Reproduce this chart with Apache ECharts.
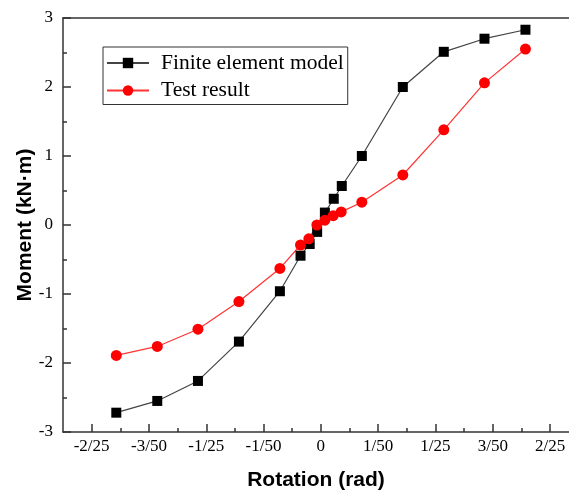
<!DOCTYPE html>
<html>
<head>
<meta charset="utf-8">
<script src="https://cdn.jsdelivr.net/npm/echarts@6/dist/echarts.min.js"></script>
<style>
  html, body { margin: 0; padding: 0; background: #fff; }
  #chart { width: 569px; height: 492px; }
</style>
</head>
<body>
<div id="chart"></div>
<script>
// rotation (rad) and moment (kN·m)
const femRotation = [-0.0714, -0.0571, -0.0429, -0.0286, -0.0143, -0.0071, -0.0039, -0.0013, 0.0014, 0.0045, 0.0073, 0.0143, 0.0286, 0.0429, 0.0571, 0.0714]
const femMoment = [-2.72, -2.55, -2.26, -1.69, -0.96, -0.445, -0.275, -0.10, 0.18, 0.38, 0.565, 1.0, 2.0, 2.51, 2.70, 2.83]

const testRotation = [-0.0714, -0.0571, -0.0429, -0.0286, -0.0143, -0.0071, -0.0042, -0.0014, 0.0014, 0.0043, 0.0071, 0.0143, 0.0286, 0.0429, 0.0571, 0.0714]
const testMoment = [-1.89, -1.76, -1.51, -1.11, -0.63, -0.29, -0.20, 0.0, 0.07, 0.135, 0.19, 0.33, 0.725, 1.38, 2.06, 2.55]

const xTickValues = [-0.08, -0.06, -0.04, -0.02, 0, 0.02, 0.04, 0.06, 0.08]
const xTickLabels = ['-2/25', '-3/50', '-1/25', '-1/50', '0', '1/50', '1/25', '3/50', '2/25']
const xMinorTicks = [-0.07, -0.05, -0.03, -0.01, 0.01, 0.03, 0.05, 0.07]

// the original plot runs to 0.09 but is cut off at the right edge of the image
const xMin = -0.09
const xMax = 0.0866

const zip = (xs, ys) => xs.map((x, i) => [x, ys[i]])

const serif = 'Liberation Serif'
const sans = 'Liberation Sans'
const axisColor = '#333'
const tickStyle = { color: axisColor, width: 1.5 }

const chart = echarts.init(document.getElementById('chart'), null, { renderer: 'canvas' })

chart.setOption({
  animation: false,
  grid: {
    left: 63,
    top: 18,
    bottom: 60,
    right: 0,
    outerBoundsMode: 'none'
  },
  legend: {
    left: 103,
    top: 47,
    orient: 'vertical',
    itemWidth: 42,
    itemHeight: 13,
    itemGap: 5.5,
    padding: [5, 4, 3, 3],
    borderColor: '#333',
    borderWidth: 1,
    backgroundColor: '#fff',
    textStyle: {
      fontFamily: serif,
      fontSize: 21.5,
      color: '#000',
      lineHeight: 21,
      padding: [0, 0, 0, 7]
    }
  },
  xAxis: [{
    type: 'value',
    min: xMin,
    max: xMax,
    name: 'Rotation (rad)',
    nameLocation: 'middle',
    nameGap: 38,
    nameMoveOverlap: false,
    nameTextStyle: { fontFamily: sans, fontWeight: 'bold', fontSize: 21, color: '#000' },
    splitLine: { show: false },
    axisLine: { onZero: false, lineStyle: tickStyle },
    axisTick: { inside: true, length: 8, customValues: xTickValues, lineStyle: tickStyle },
    axisLabel: {
      customValues: xTickValues,
      margin: 6,
      fontFamily: serif,
      fontSize: 17,
      color: '#000',
      formatter: (v) => {
        const i = xTickValues.findIndex(t => Math.abs(t - v) < 1e-6)
        return i >= 0 ? xTickLabels[i] : ''
      }
    }
  }, {
    // minor ticks only
    type: 'value',
    position: 'bottom',
    min: xMin,
    max: xMax,
    splitLine: { show: false },
    axisLine: { show: false, onZero: false },
    axisTick: { inside: true, length: 4, customValues: xMinorTicks, lineStyle: tickStyle },
    axisLabel: { show: false }
  }, {
    // top frame line
    type: 'value',
    position: 'top',
    min: xMin,
    max: xMax,
    splitLine: { show: false },
    axisLine: { show: true, onZero: false, lineStyle: tickStyle },
    axisTick: { show: false },
    axisLabel: { show: false }
  }],
  yAxis: {
    type: 'value',
    min: -3,
    max: 3,
    interval: 1,
    name: 'Moment (kN·m)',
    nameLocation: 'middle',
    nameGap: 27,
    nameMoveOverlap: false,
    nameTextStyle: { fontFamily: sans, fontWeight: 'bold', fontSize: 21, color: '#000' },
    splitLine: { show: false },
    axisLine: { onZero: false, lineStyle: tickStyle },
    axisTick: { inside: true, length: 8, lineStyle: tickStyle },
    minorTick: { show: true, splitNumber: 2, length: 4, lineStyle: tickStyle },
    axisLabel: { margin: 10, fontFamily: serif, fontSize: 17, color: '#000' }
  },
  series: [{
    name: 'Finite element model',
    type: 'line',
    data: zip(femRotation, femMoment),
    symbol: 'rect',
    symbolSize: 10,
    itemStyle: { color: '#000' },
    lineStyle: { color: '#444', width: 1.2 }
  }, {
    name: 'Test result',
    type: 'line',
    data: zip(testRotation, testMoment),
    symbol: 'circle',
    symbolSize: 11,
    itemStyle: { color: '#ff0000' },
    lineStyle: { color: '#f33', width: 1.2 }
  }]
})
</script>
</body>
</html>
